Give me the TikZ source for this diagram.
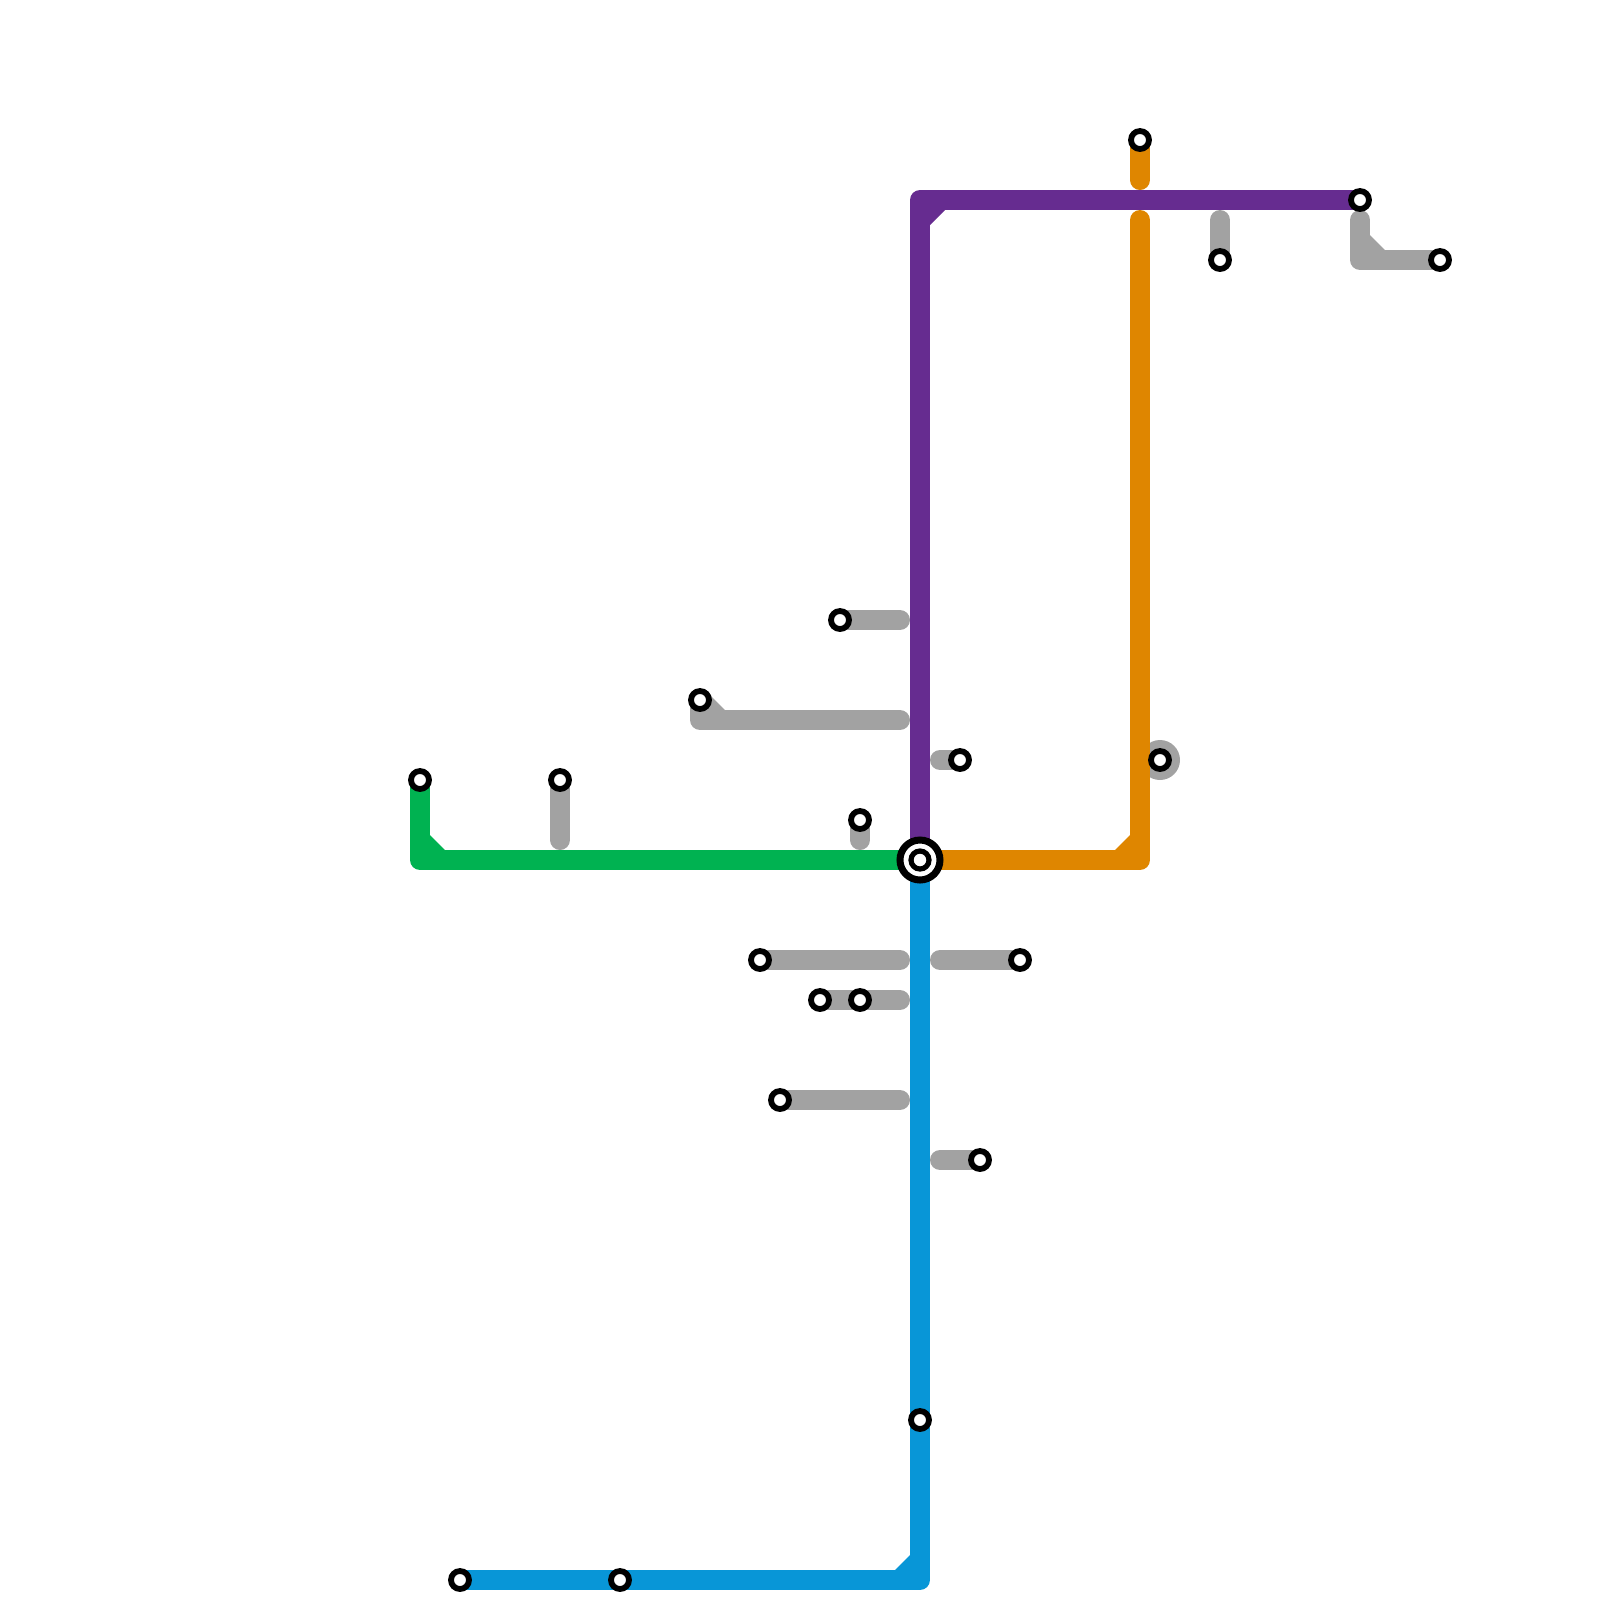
\documentclass[tikz,border=0pt]{standalone}
\usepackage{tikz}
\usetikzlibrary{backgrounds}
\definecolor{linepurple}{HTML}{662C90}
\definecolor{lineorange}{HTML}{DF8600}
\definecolor{linegreen}{HTML}{00B251}
\definecolor{lineblue}{HTML}{0896D7}
\definecolor{linegray}{HTML}{A2A2A2}
\begin{document}
\begin{tikzpicture}[x=0.2cm, y=-0.2cm,
    metro/.style={line width=2mm, line cap=round, line join=round},
    stop/.style={circle, draw=black, fill=white, line width=0.58mm, minimum size=1.8mm, inner sep=0pt}]
\useasboundingbox (0,0) rectangle (80,80);

% Interchange
\node[circle, draw=black, fill=white, line width=0.7mm, minimum size=4mm, inner sep=0pt] (hub) at (46,43) {};
\node[circle, draw=black, fill=white, line width=0.52mm, minimum size=1.8mm, inner sep=0pt] (hubinner) at (46,43) {};

% Stops on coloured lines
\node[stop] (greenend) at (21,39) {};
\node[stop] (blueend) at (23,79) {};
\node[stop] (bluemid) at (31,79) {};
\node[stop] (bluelow) at (46,71) {};
\node[stop] (orangetop) at (57,7) {};
\node[stop] (purpleend) at (68,10) {};

% Stops on gray stubs
\node[stop] (graya) at (28,39) {};
\node[stop] (grayb) at (35,35) {};
\node[stop] (grayc) at (42,31) {};
\node[stop] (grayd) at (43,41) {};
\node[stop] (graye) at (48,38) {};
\node[stop] (grayf) at (38,48) {};
\node[stop] (grayg) at (51,48) {};
\node[stop] (grayh) at (41,50) {};
\node[stop] (grayi) at (43,50) {};
\node[stop] (grayj) at (39,55) {};
\node[stop] (grayk) at (49,58) {};
\node[stop] (grayl) at (58,38) {};
\node[stop] (graym) at (61,13) {};
\node[stop] (grayn) at (72,13) {};

% Bends and free ends
\coordinate (greenbend) at (21,43);
\coordinate (bluebend) at (46,79);
\coordinate (purplebend) at (46,10);
\coordinate (orangebend) at (57,43);
\coordinate (orangestart) at (57,11);
\coordinate (orangestub) at (57,9);
\coordinate (graybendb) at (35,36);
\coordinate (graybendn) at (68,13);

\begin{scope}[on background layer]
% Gray stubs
\fill[linegray] (grayl) circle (1);
\draw[metro, linegray] (graya.center) -- (28,42);
\draw[metro, linegray] (grayb.center) -- (graybendb) -- (45,36);
\fill[linegray] (35.5,34.75) -- (36.25,35.5) -- (graybendb) -- cycle;
\draw[metro, linegray] (grayc.center) -- (45,31);
\draw[metro, linegray] (grayd.center) -- (43,42);
\draw[metro, linegray] (47,38) -- (graye.center);
\draw[metro, linegray] (grayf.center) -- (45,48);
\draw[metro, linegray] (47,48) -- (grayg.center);
\draw[metro, linegray] (grayh.center) -- (45,50);
\draw[metro, linegray] (grayj.center) -- (45,55);
\draw[metro, linegray] (47,58) -- (grayk.center);
\draw[metro, linegray] (61,11) -- (graym.center);
\draw[metro, linegray] (68,11) -- (graybendn) -- (grayn.center);
\fill[linegray] (68.5,11.75) -- (69.25,12.5) -- (graybendn) -- cycle;

% Green line
\draw[metro, linegreen] (greenend.center) -- (greenbend) -- (hub.center);
\fill[linegreen] (21.5,41.75) -- (22.25,42.5) -- (greenbend) -- cycle;

% Blue line
\draw[metro, lineblue] (hub.center) -- (bluebend) -- (blueend.center);
\fill[lineblue] (45.5,77.75) -- (44.75,78.5) -- (bluebend) -- cycle;

% Orange line
\draw[metro, lineorange] (hub.center) -- (orangebend) -- (orangestart);
\draw[metro, lineorange] (orangetop.center) -- (orangestub);
\fill[lineorange] (56.5,41.75) -- (55.75,42.5) -- (orangebend) -- cycle;

% Purple line
\draw[metro, linepurple] (hub.center) -- (purplebend) -- (purpleend.center);
\fill[linepurple] (46.5,11.25) -- (47.25,10.5) -- (purplebend) -- cycle;
\end{scope}
\end{tikzpicture}
\end{document}
